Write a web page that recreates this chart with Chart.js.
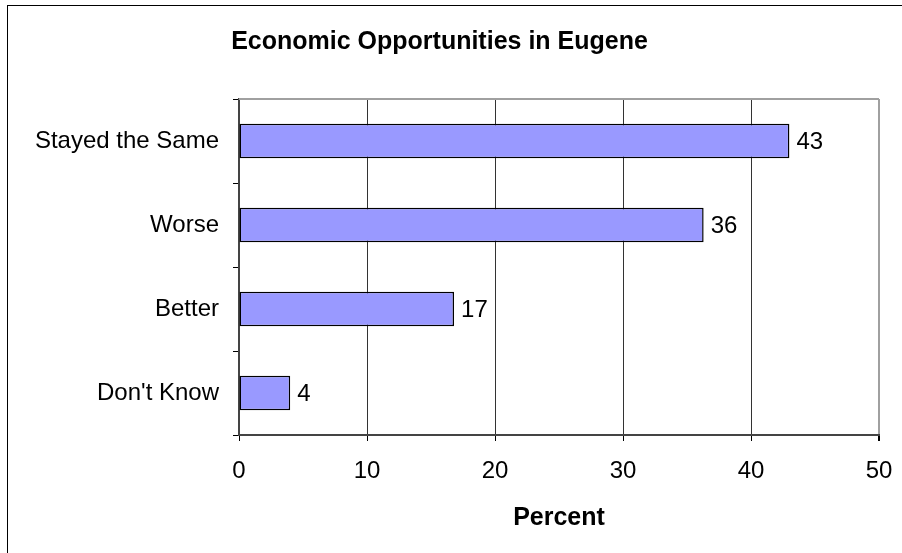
<!DOCTYPE html>
<html>
<head>
<meta charset="utf-8">
<title>Economic Opportunities in Eugene</title>
<script src="https://cdn.jsdelivr.net/npm/chart.js@4/dist/chart.umd.min.js"></script>
<style>
  html, body { margin: 0; padding: 0; background: #fff; overflow: hidden; }
  #frame {
    position: absolute; left: 7px; top: 5px;
    width: 1000px; height: 1000px;
    border-left: 1px solid #000; border-top: 1px solid #000;
  }
  #wrap { position: absolute; left: 0; top: 0; width: 902px; height: 553px; }
</style>
</head>
<body>
<div id="frame"></div>
<div id="wrap"><canvas id="myChart" width="902" height="553"></canvas></div>
<script>
const categories = ["Stayed the Same", "Worse", "Better", "Don't Know"];
const percentValues = [43, 36.3, 16.8, 4.0];
const xTicks = [0, 10, 20, 30, 40, 50];

const FONT = "'Liberation Sans', Arial, sans-serif";

// numbers printed at the end of each bar
const barLabels = {
  id: 'barLabels',
  afterDatasetsDraw(chart) {
    const ctx = chart.ctx;
    const meta = chart.getDatasetMeta(0);
    ctx.save();
    ctx.font = '24px ' + FONT;
    ctx.fillStyle = '#000';
    ctx.textAlign = 'left';
    ctx.textBaseline = 'middle';
    meta.data.forEach((bar, i) => {
      ctx.fillText(String(Math.round(percentValues[i])), bar.x + 7, bar.y + 1);
    });
    ctx.restore();
  }
};

// grey top edge of the plot box
const plotTop = {
  id: 'plotTop',
  beforeDatasetsDraw(chart) {
    const a = chart.chartArea;
    const ctx = chart.ctx;
    ctx.save();
    ctx.strokeStyle = '#a0a0a0';
    ctx.lineWidth = 2;
    ctx.beginPath();
    ctx.moveTo(a.left, a.top);
    ctx.lineTo(a.right, a.top);
    ctx.stroke();
    ctx.restore();
  }
};

new Chart("myChart", {
  type: "bar",
  data: {
    labels: categories,
    datasets: [{
      data: percentValues,
      backgroundColor: "#9999ff",
      borderColor: "#000",
      borderWidth: 1.5,
      borderSkipped: false,
      categoryPercentage: 1,
      barPercentage: 0.41
    }]
  },
  plugins: [plotTop, barLabels],
  options: {
    indexAxis: 'y',
    responsive: false,
    animation: false,
    devicePixelRatio: 1,
    layout: { padding: { left: 0, right: 23, top: 0, bottom: 0 } },
    plugins: {
      legend: { display: false },
      tooltip: { enabled: false },
      title: {
        display: true,
        text: "Economic Opportunities in Eugene",
        color: '#000',
        font: { family: FONT, size: 25, weight: 'bold' },
        padding: { top: 27, bottom: 42 }
      }
    },
    scales: {
      x: {
        min: 0,
        max: 50,
        afterBuildTicks(scale) {
          scale.ticks = xTicks.map(v => ({ value: v }));
        },
        afterFit(scale) {
          scale.height = 118;
          scale.paddingLeft = 0;
          scale.paddingRight = 0;
        },
        grid: {
          color: ctx => (ctx.tick && ctx.tick.value === 50) ? '#a0a0a0' : '#333',
          lineWidth: ctx => (ctx.tick && ctx.tick.value === 50) ? 2 : 1,
          tickColor: '#000',
          tickLength: 6
        },
        border: { color: '#444', width: 2 },
        ticks: {
          color: '#000',
          padding: 16,
          maxRotation: 0,
          font: { family: FONT, size: 24 }
        },
        title: {
          display: true,
          text: 'Percent',
          color: '#000',
          font: { family: FONT, size: 25, weight: 'bold' },
          padding: { top: 0, bottom: 20 }
        }
      },
      y: {
        afterFit(scale) { scale.width = 239; },
        grid: {
          offset: true,
          drawOnChartArea: false,
          tickColor: '#000',
          tickLength: 6
        },
        border: { color: '#444', width: 2 },
        ticks: {
          color: '#000',
          padding: 14,
          font: { family: FONT, size: 24 }
        }
      }
    }
  }
});
</script>
</body>
</html>
